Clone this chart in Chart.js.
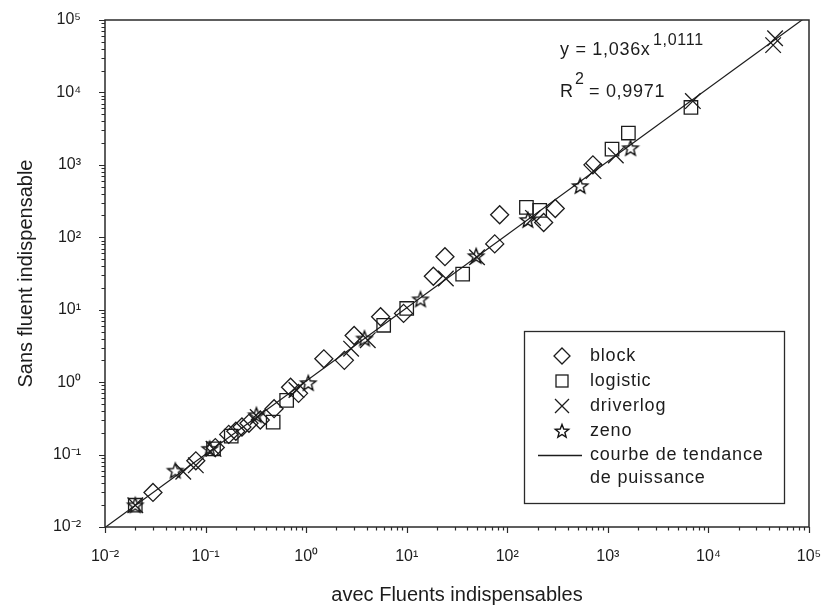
<!DOCTYPE html>
<html>
<head>
<meta charset="utf-8">
<script src="https://cdn.jsdelivr.net/npm/chart.js@4.4.1/dist/chart.umd.min.js"></script>
<style>
  html, body { margin: 0; padding: 0; background: #fff; }
  #wrap { width: 824px; height: 608px; }
</style>
</head>
<body>
<div id="wrap"><canvas id="chart" width="824" height="608"></canvas></div>
<script>
// --- Data ---
const blockX = [0.03, 0.08, 0.125, 0.17, 0.2, 0.23, 0.27, 0.35, 0.48, 0.7, 0.84, 1.5, 2.4, 3.0, 5.5, 9.3, 18.4, 24, 75, 84, 230, 300, 710];
const blockY = [0.03, 0.082, 0.125, 0.19, 0.21, 0.24, 0.27, 0.30, 0.43, 0.85, 0.70, 2.1, 2.0, 4.4, 8.0, 8.9, 29, 54, 81, 205, 160, 250, 1000];

const logisticX = [0.02, 0.12, 0.18, 0.47, 0.64, 5.9, 10, 36, 155, 210, 1100, 1600, 6700];
const logisticY = [0.02, 0.12, 0.18, 0.28, 0.56, 6.1, 10.4, 31, 259, 235, 1650, 2750, 6200];

const driverlogX = [0.02, 0.06, 0.08, 0.12, 0.33, 0.8, 2.8, 4.1, 24.5, 50, 180, 720, 1200, 7000, 44000, 46000];
const driverlogY = [0.02, 0.058, 0.071, 0.12, 0.33, 0.78, 2.9, 3.8, 27, 53, 185, 820, 1350, 7600, 45000, 56000];

const zenoX = [0.02, 0.05, 0.11, 0.32, 1.05, 3.8, 13.7, 49, 160, 530, 1680];
const zenoY = [0.02, 0.06, 0.12, 0.35, 0.97, 4.0, 13.9, 55, 173, 510, 1700];

// power trend line end points (y = 1,036x^1,0111)
const fitX = [0.01, 100000];
const fitY = [0.00984, 117700];

const tickValues = [0.01, 0.1, 1, 10, 100, 1000, 10000, 100000];
const tickExps = ['-2', '-1', '0', '1', '2', '3', '4', '5'];

const INK = '#1c1c1c';
const FONT = "'Liberation Sans', Arial, sans-serif";

const SUP = { '-': '\u207B', '0': '\u2070', '1': '\u00B9', '2': '\u00B2', '3': '\u00B3', '4': '\u2074', '5': '\u2075' };
const supText = s => s.split('').map(c => SUP[c]).join('');

function pairs(xs, ys) {
    return xs.map((x, i) => ({ x, y: ys[i] }));
}

// five pointed open star used for zeno
function makeStar(size, outer, inner) {
    const c = document.createElement('canvas');
    c.width = size; c.height = size;
    const g = c.getContext('2d');
    g.strokeStyle = '#111';
    g.lineWidth = 1.4;
    g.lineJoin = 'miter';
    g.beginPath();
    for (let i = 0; i < 10; i++) {
        const r = i % 2 === 0 ? outer : inner;
        const a = -Math.PI / 2 + i * Math.PI / 5;
        const px = size / 2 + r * Math.cos(a);
        const py = size / 2 + 0.5 + r * Math.sin(a);
        if (i === 0) g.moveTo(px, py); else g.lineTo(px, py);
    }
    g.closePath();
    g.stroke();
    return c;
}
const starImg = makeStar(20, 8, 3.4);
const starSmall = makeStar(18, 7, 3);

// frame, minor ticks, legend and equation text
const decorPlugin = {
    id: 'decor',
    afterDatasetsDraw(chart) {
        const { ctx, chartArea: a, scales: { x, y } } = chart;
        ctx.save();
        ctx.strokeStyle = '#2a2a2a';
        ctx.lineWidth = 1.5;
        ctx.strokeRect(a.left, a.top, a.right - a.left, a.bottom - a.top);

        ctx.lineWidth = 1.2;
        ctx.beginPath();
        for (let e = -2; e <= 5; e++) {
            for (let m = 1; m <= 9; m++) {
                if (e === 5 && m > 1) break;
                const v = m * Math.pow(10, e);
                const len = m === 1 ? 6 : 3.5;
                const px = Math.round(x.getPixelForValue(v)) + 0.5;
                ctx.moveTo(px, a.bottom);
                ctx.lineTo(px, a.bottom + len);
                const py = Math.round(y.getPixelForValue(v)) + 0.5;
                ctx.moveTo(a.left, py);
                ctx.lineTo(a.left - len, py);
            }
        }
        ctx.stroke();

        // equation
        ctx.fillStyle = INK;
        ctx.textBaseline = 'alphabetic';
        ctx.letterSpacing = '0.7px';
        ctx.font = '18px ' + FONT;
        ctx.fillText('y = 1,036x', 560, 55);
        ctx.font = '16px ' + FONT;
        ctx.fillText('1,0111', 653, 45);
        ctx.font = '18px ' + FONT;
        ctx.fillText('R', 560, 97);
        ctx.font = '16px ' + FONT;
        ctx.fillText('2', 575, 84);
        ctx.font = '18px ' + FONT;
        ctx.fillText('= 0,9971', 589, 97);

        // legend box
        const L = { left: 524, top: 331, right: 784, bottom: 503 };
        ctx.fillStyle = '#fff';
        ctx.fillRect(L.left, L.top, L.right - L.left, L.bottom - L.top);
        ctx.strokeStyle = '#2a2a2a';
        ctx.lineWidth = 1.3;
        ctx.strokeRect(L.left + 0.5, L.top + 0.5, L.right - L.left, L.bottom - L.top);

        const mx = 562, tx = 590;
        const rows = [356, 381, 406, 431, 455, 478];
        ctx.strokeStyle = INK;
        ctx.lineWidth = 1.3;
        // diamond
        ctx.beginPath();
        ctx.moveTo(mx, rows[0] - 8); ctx.lineTo(mx + 8, rows[0]);
        ctx.lineTo(mx, rows[0] + 8); ctx.lineTo(mx - 8, rows[0]); ctx.closePath();
        ctx.stroke();
        // square
        ctx.strokeRect(mx - 6, rows[1] - 6, 12, 12);
        // cross
        ctx.beginPath();
        ctx.moveTo(mx - 7, rows[2] - 7); ctx.lineTo(mx + 7, rows[2] + 7);
        ctx.moveTo(mx + 7, rows[2] - 7); ctx.lineTo(mx - 7, rows[2] + 7);
        ctx.stroke();
        // star
        ctx.drawImage(starSmall, mx - 9, rows[3] - 9);
        // line
        ctx.beginPath();
        ctx.moveTo(538, rows[4] + 0.5); ctx.lineTo(582, rows[4] + 0.5);
        ctx.stroke();

        ctx.fillStyle = INK;
        ctx.font = '18px ' + FONT;
        ctx.letterSpacing = '0.8px';
        ctx.textBaseline = 'middle';
        const labels = ['block', 'logistic', 'driverlog', 'zeno', 'courbe de tendance', 'de puissance'];
        labels.forEach((s, i) => ctx.fillText(s, tx, rows[i]));
        ctx.restore();
    }
};

const markerBase = {
    borderColor: INK,
    backgroundColor: 'rgba(0,0,0,0)',
    borderWidth: 1.3,
    pointHoverRadius: 0
};

new Chart(document.getElementById('chart'), {
    type: 'scatter',
    data: {
        datasets: [
            { ...markerBase, label: 'block', data: pairs(blockX, blockY), pointStyle: 'rectRot', pointRadius: 9 },
            { ...markerBase, label: 'logistic', data: pairs(logisticX, logisticY), pointStyle: 'rect', pointRadius: 9.5 },
            { ...markerBase, label: 'driverlog', data: pairs(driverlogX, driverlogY), pointStyle: 'crossRot', pointRadius: 11 },
            { ...markerBase, label: 'zeno', data: pairs(zenoX, zenoY), pointStyle: starImg, pointRadius: 10 },
            {
                label: 'courbe de tendance de puissance',
                data: pairs(fitX, fitY),
                showLine: true,
                borderColor: INK,
                borderWidth: 1.2,
                pointRadius: 0,
                clip: 0
            }
        ]
    },
    options: {
        responsive: false,
        animation: false,
        events: [],
        layout: { padding: 0 },
        plugins: {
            legend: { display: false },
            tooltip: { enabled: false }
        },
        scales: {
            x: {
                type: 'logarithmic',
                min: 0.01,
                max: 100000,
                grid: { display: false },
                border: { display: false },
                afterBuildTicks: s => { s.ticks = tickValues.map(v => ({ value: v })); },
                afterFit: s => { s.height = 81; s.paddingRight = 15; },
                ticks: {
                    autoSkip: false,
                    maxRotation: 0,
                    padding: 12,
                    color: INK,
                    font: { family: FONT, size: 16 },
                    callback: (v, i) => '10' + supText(tickExps[i])
                },
                title: {
                    display: true,
                    text: 'avec Fluents indispensables',
                    color: INK,
                    font: { family: FONT, size: 20 },
                    padding: { top: 0, bottom: 1 }
                }
            },
            y: {
                type: 'logarithmic',
                min: 0.01,
                max: 100000,
                grid: { display: false },
                border: { display: false },
                afterBuildTicks: s => { s.ticks = tickValues.map(v => ({ value: v })); },
                afterFit: s => { s.width = 105; s.paddingTop = 20; },
                ticks: {
                    autoSkip: false,
                    padding: 16,
                    color: INK,
                    font: { family: FONT, size: 16 },
                    callback: (v, i) => '10' + supText(tickExps[i])
                },
                title: {
                    display: true,
                    text: 'Sans fluent indispensable',
                    color: INK,
                    font: { family: FONT, size: 20 },
                    padding: { top: 14, bottom: 0 }
                }
            }
        }
    },
    plugins: [decorPlugin]
});
</script>
</body>
</html>
